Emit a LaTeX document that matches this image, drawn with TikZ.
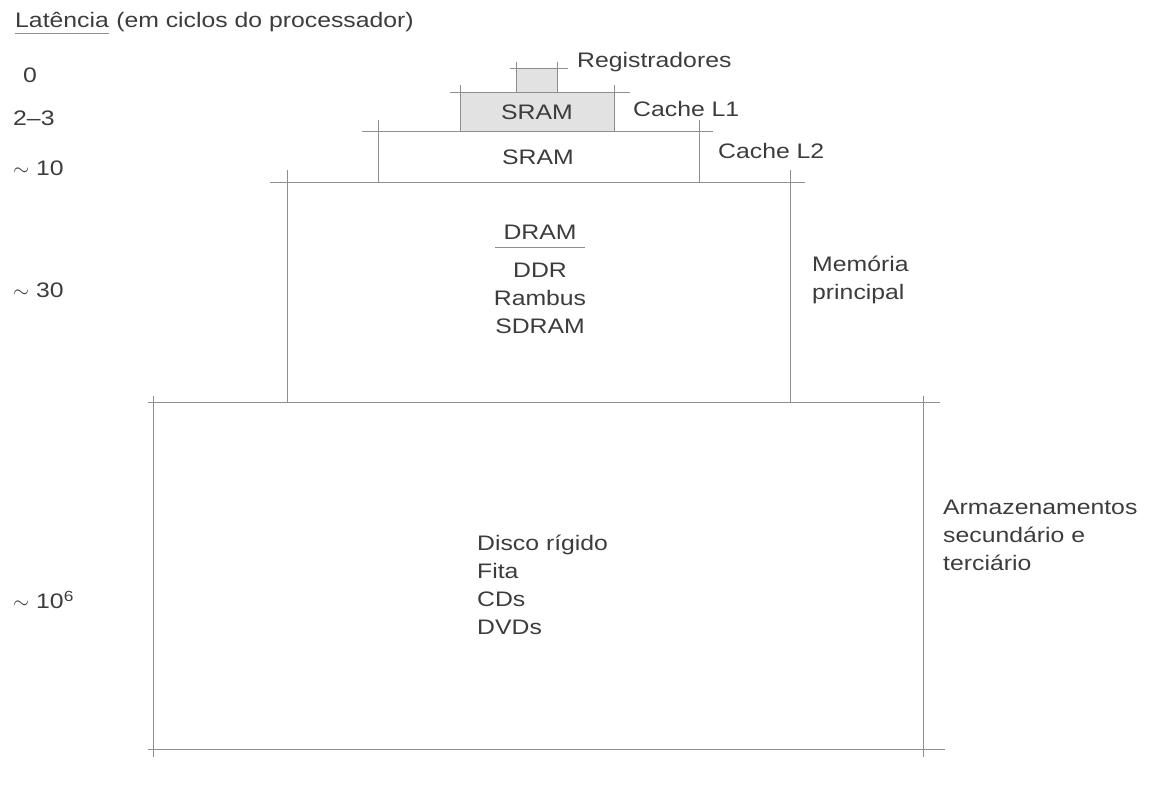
\documentclass[tikz,border=0pt]{standalone}
\usepackage{fontspec}
\setmainfont{Liberation Sans}[FakeStretch=1.18]
\usepackage{xcolor}
\usepackage{tikz}
\usetikzlibrary{positioning}
\definecolor{ink}{HTML}{3C3C3C}
\definecolor{rulegray}{HTML}{8E8E8E}
\definecolor{shade}{HTML}{E2E2E2}
\tikzset{
  rule/.style={draw=rulegray, line width=1pt},
  tierfill/.style={fill=shade},
  lbl/.style={font=\fontsize{21}{28}\selectfont, text=ink, inner sep=0pt, align=left},
  mid/.style={lbl, align=center},
}

\begin{document}
\begin{tikzpicture}[x=1pt,y=-1pt]
\useasboundingbox (0,0) rectangle (1155,784);

\fill[tierfill] (516,68) rectangle (557,92);
\fill[tierfill] (460,92) rectangle (614,131);

\foreach \l/\r/\t/\b/\hl/\hr/\vt in {516/557/68/92/510/568/62, 460/614/92/131/450/630/85,
  378/699/131/182/362/713/120, 287/790/182/402/270/805/170, 153/923/402/757/148/940/396}
{
  \draw[rule] (\hl,\t) -- (\hr,\t);
  \draw[rule] (\l,\vt) -- (\l,\b);
  \draw[rule] (\r,\vt) -- (\r,\b);
}
\draw[rule] (148,749) -- (945,749);

\node[lbl, anchor=base west] (lat) at (15,28) {Latência};
\node[lbl, anchor=base west] (rest) at ([xshift=7pt]lat.base east) {(em ciclos do processador)};
\draw[rule] ([yshift=-5pt]lat.south west) -- ([yshift=-5pt]lat.south east);

\node[lbl, anchor=west] (n0) at (23,75)  {0};
\node[lbl, anchor=west] (n1) at (13,118) {2--3};
\node[lbl, anchor=west] (n2) at (13,168) {$\sim$ 10};
\node[lbl, anchor=west] (n3) at (13,290) {$\sim$ 30};
\node[lbl, anchor=west] (n4) at (13,600) {$\sim$ 10\textsuperscript{6}};

\node[lbl, anchor=west] (reg)   at (577,62)  {Registradores};
\node[mid]              (sram1) at (537,112) {SRAM};
\node[lbl, anchor=west] (c1)    at (633,109) {Cache L1};
\node[mid]              (sram2) at (538,157) {SRAM};
\node[lbl, anchor=west] (c2)    at (718,151) {Cache L2};

\node[mid] (dram) at (540,232) {DRAM};
\draw[rule] ([xshift=-8pt,yshift=-8pt]dram.south west) -- ([xshift=8pt,yshift=-8pt]dram.south east);
\node[mid, anchor=north] (dtypes) at (540,263) {DDR\\Rambus\\SDRAM};
\node[lbl, anchor=north west] (mp) at (812,256) {Memória\\principal};

\node[lbl, anchor=north west] (media) at (477,535) {Disco rígido\\Fita\\CDs\\DVDs};
\node[lbl, anchor=north west] (sec)   at (943,500) {Armazenamentos\\secundário e\\terciário};
\end{tikzpicture}
\end{document}
